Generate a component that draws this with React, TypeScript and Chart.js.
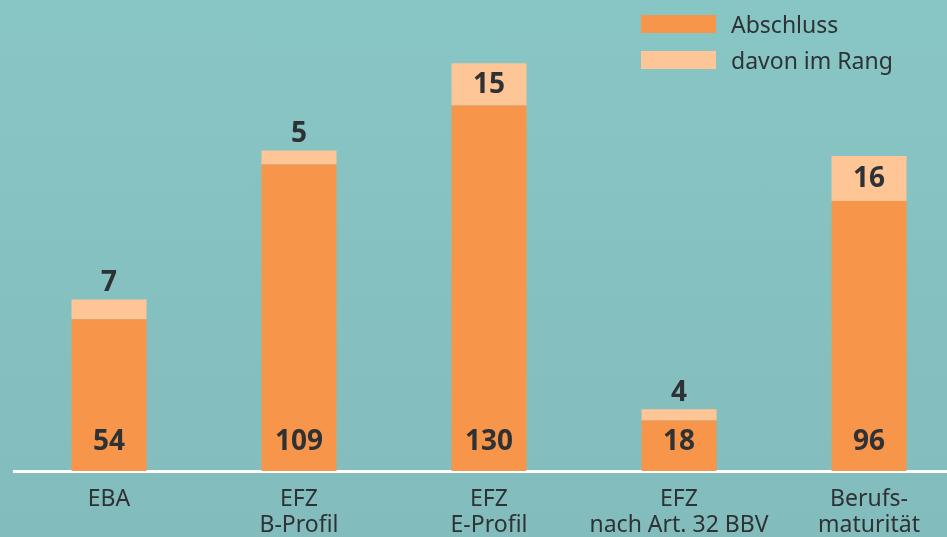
import React, { useEffect, useRef } from "react";
import { Chart, registerables } from "chart.js";

Chart.register(...registerables);

const categories: string[][] = [
  ["EBA"],
  ["EFZ", "B-Profil"],
  ["EFZ", "E-Profil"],
  ["EFZ", "nach Art. 32 BBV"],
  ["Berufs-", "maturität"],
];
const abschluss: number[] = [54, 109, 130, 18, 96];
const davonImRang: number[] = [7, 5, 15, 4, 16];
const seriesNames: string[] = ["Abschluss", "davon im Rang"];

const DARK = "#f7964a";
const LIGHT = "#fec597";
const TEXT = "#2f3234";
const FONT = "'Noto Sans', 'DejaVu Sans', sans-serif";

const overlayPlugin = {
  id: "overlay",
  afterDatasetsDraw(chart: any) {
    const ctx = chart.ctx;
    const m0 = chart.getDatasetMeta(0);
    const m1 = chart.getDatasetMeta(1);
    ctx.save();
    ctx.fillStyle = TEXT;
    ctx.textAlign = "center";
    ctx.textBaseline = "middle";
    ctx.font = `bold 28px ${FONT}`;
    m0.data.forEach((el: any, i: number) => {
      ctx.fillText(String(abschluss[i]), el.x, el.base - 29);
    });
    m1.data.forEach((el: any, i: number) => {
      const h = el.base - el.y;
      const y = h > 30 ? (el.y + el.base) / 2 + 1 : el.y - 16;
      ctx.fillText(String(davonImRang[i]), el.x, y);
    });
    // legend
    const colors = [DARK, LIGHT];
    ctx.textAlign = "left";
    ctx.font = `23px ${FONT}`;
    seriesNames.forEach((name, i) => {
      const top = 15 + i * 36;
      ctx.fillStyle = colors[i];
      ctx.fillRect(641, top, 75, 18);
      ctx.fillStyle = TEXT;
      ctx.fillText(name, 731, top + 11);
    });
    ctx.restore();
  },
};

export default function App() {
  const ref = useRef<HTMLCanvasElement | null>(null);
  useEffect(() => {
    if (!ref.current) return;
    const chart = new Chart(ref.current, {
      type: "bar",
      data: {
        labels: categories,
        datasets: [
          {
            label: seriesNames[0],
            data: abschluss,
            backgroundColor: DARK,
            categoryPercentage: 1,
            barPercentage: 0.395,
          },
          {
            label: seriesNames[1],
            data: davonImRang,
            backgroundColor: LIGHT,
            categoryPercentage: 1,
            barPercentage: 0.395,
          },
        ],
      },
      options: {
        responsive: false,
        animation: false,
        devicePixelRatio: 1,
        layout: { padding: { left: 14, right: 0, top: 21, bottom: 0 } },
        plugins: {
          legend: { display: false },
          tooltip: { enabled: false },
        },
        scales: {
          x: {
            stacked: true,
            grid: { display: false, drawTicks: false },
            border: { display: true, color: "#ffffff", width: 3 },
            ticks: {
              color: TEXT,
              font: { family: FONT, size: 23, lineHeight: 1.13 },
              padding: 15,
              maxRotation: 0,
              autoSkip: false,
            },
            afterFit(scale: any) {
              scale.height = 66;
            },
          },
          y: {
            stacked: true,
            display: false,
            min: 0,
            max: 160,
          },
        },
      },
      plugins: [overlayPlugin],
    });
    return () => chart.destroy();
  }, []);
  return (
    <div
      style={{
        position: "absolute",
        left: 0,
        top: 0,
        width: 947,
        height: 537,
        overflow: "hidden",
        background: "linear-gradient(#88c6c5, #83bcbc)",
      }}
    >
      <canvas ref={ref} width={964} height={537} style={{ display: "block" }} />
    </div>
  );
}
